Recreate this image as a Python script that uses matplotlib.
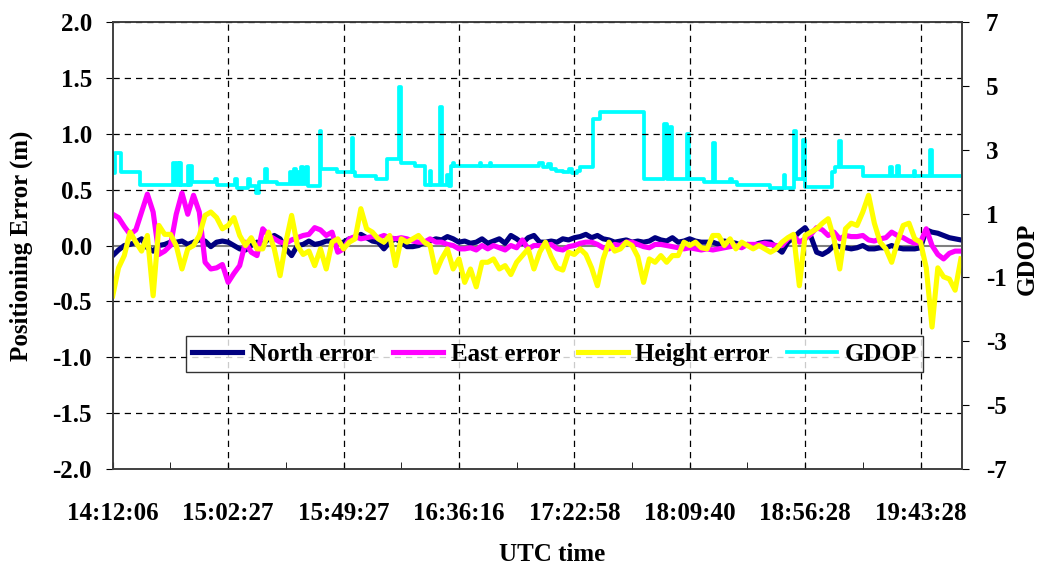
import numpy as np
import matplotlib
matplotlib.use("Agg")
import matplotlib.pyplot as plt
from matplotlib.ticker import MultipleLocator, FormatStrFormatter

plt.rcParams['font.family'] = ['Liberation Serif', 'DejaVu Serif']
plt.rcParams['font.weight'] = 'bold'
plt.rcParams['axes.unicode_minus'] = False

# epoch labels on the category axis (one label every 20 epochs)
time_labels = ['14:12:06', '15:02:27', '15:49:27', '16:36:16',
               '17:22:58', '18:09:40', '18:56:28', '19:43:28']

# positioning errors (m), one value per epoch
north_error = [
    -0.09, -0.04, 0.0, 0.01, 0.03, 0.06, -0.02, -0.05, 0.0, 0.01,
    0.03, 0.03, 0.04, 0.01, 0.03, 0.05, 0.04, -0.01, 0.03, 0.04,
    0.03, 0.0, -0.03, -0.04, 0.0, 0.03, 0.01, 0.06, 0.09, 0.06,
    -0.03, -0.09, 0.0, 0.01, 0.04, 0.01, 0.02, 0.04, 0.04, 0.02,
    0.03, 0.06, 0.07, 0.1, 0.07, 0.04, 0.03, -0.03, 0.03, 0.06,
    0.03, -0.01, -0.01, 0.0, 0.03, 0.04, 0.06, 0.05, 0.08, 0.06,
    0.03, 0.04, 0.02, 0.03, 0.06, 0.02, 0.04, 0.06, 0.02, 0.09,
    0.06, 0.02, 0.07, 0.09, 0.03, 0.03, 0.04, 0.03, 0.06, 0.05,
    0.07, 0.08, 0.1, 0.07, 0.09, 0.06, 0.05, 0.03, 0.04, 0.05,
    0.03, 0.04, 0.03, 0.04, 0.07, 0.05, 0.04, 0.07, 0.03, 0.04,
    0.06, 0.04, 0.03, 0.03, 0.03, 0.01, 0.04, 0.03, 0.02, 0.0,
    0.01, 0.0, 0.02, 0.03, 0.03, -0.02, -0.06, 0.03, 0.07, 0.12,
    0.16, 0.08, -0.06, -0.08, -0.05, 0.0, -0.01, -0.02, -0.03, -0.02,
    0.0, -0.03, -0.03, -0.02, -0.02, 0.0, -0.02, -0.03, -0.03, -0.03,
    -0.02, 0.14, 0.12, 0.11, 0.09, 0.07, 0.06, 0.05]

east_error = [
    0.28, 0.25, 0.17, 0.10, 0.14, 0.30, 0.46, 0.3, -0.08, -0.05,
    0.0, 0.28, 0.47, 0.28, 0.45, 0.3, -0.15, -0.21, -0.2, -0.17,
    -0.33, -0.25, -0.18, 0.03, -0.06, -0.09, 0.15, 0.09, 0.06, 0.03,
    0.02, 0.05, 0.07, 0.09, 0.1, 0.16, 0.14, 0.09, 0.12, -0.06,
    -0.03, 0.06, 0.08, 0.06, 0.07, 0.08, 0.07, 0.09, 0.07, 0.06,
    0.07, 0.06, 0.04, 0.03, 0.03, 0.06, 0.03, 0.03, 0.01, 0.0,
    -0.03, -0.03, -0.02, -0.04, 0.0, -0.03, 0.0, -0.02, -0.04, 0.0,
    -0.02, 0.05, -0.03, 0.0, 0.0, 0.0, 0.01, -0.03, -0.04, -0.01,
    0.0, 0.02, 0.03, 0.03, 0.01, -0.02, -0.03, 0.01, 0.0, 0.03,
    0.03, 0.01, -0.01, -0.02, 0.01, 0.01, 0.0, -0.01, -0.02, -0.03,
    -0.02, -0.03, -0.04, -0.03, -0.04, -0.03, -0.02, -0.01, 0.0, -0.02,
    0.01, 0.01, 0.01, 0.02, 0.01, 0.0, 0.0, 0.06, 0.09, 0.03,
    0.06, 0.1, 0.16, 0.14, 0.09, 0.12, 0.06, 0.09, 0.08, 0.08,
    0.09, 0.05, 0.04, 0.06, 0.07, 0.12, 0.09, 0.07, 0.04, 0.02,
    0.03, 0.15, 0.0, -0.08, -0.12, -0.07, -0.05, -0.05]

height_error = [
    -0.45, -0.2, -0.09, 0.12, 0.03, -0.05, 0.09, -0.45, 0.18, 0.1,
    0.1, 0.0, -0.21, -0.03, 0.0, 0.09, 0.27, 0.3, 0.25, 0.15,
    0.18, 0.25, 0.09, 0.0, 0.07, -0.03, -0.03, 0.12, -0.03, -0.27,
    0.03, 0.27, 0.0, -0.08, -0.05, -0.18, -0.03, -0.21, 0.03, 0.06,
    -0.03, 0.03, 0.06, 0.33, 0.15, 0.12, 0.06, 0.03, 0.09, -0.18,
    0.06, 0.03, 0.06, 0.09, 0.03, 0.0, -0.24, -0.12, -0.03, -0.21,
    -0.12, -0.33, -0.21, -0.37, -0.15, -0.15, -0.12, -0.21, -0.18, -0.26,
    -0.15, -0.09, -0.03, -0.21, -0.06, 0.03, -0.1, -0.2, -0.22, -0.06,
    -0.08, -0.03, -0.08, -0.2, -0.36, -0.12, 0.03, -0.05, -0.03, 0.03,
    0.0, -0.1, -0.33, -0.12, -0.15, -0.09, -0.15, -0.09, -0.09, 0.03,
    0.0, 0.03, -0.02, -0.03, 0.09, 0.09, 0.0, 0.06, -0.03, 0.03,
    0.0, -0.03, 0.0, -0.03, -0.06, -0.03, 0.03, 0.07, 0.1, -0.36,
    0.09, 0.12, 0.15, 0.2, 0.24, 0.06, -0.21, 0.15, 0.2, 0.18,
    0.3, 0.45, 0.2, 0.03, -0.03, -0.15, 0.03, 0.18, 0.2, 0.06,
    0.03, -0.2, -0.73, -0.2, -0.28, -0.3, -0.4, -0.12]

# GDOP changes: epoch at which a new value starts, and the value
gdop_epoch = [
    0.0, 0.35, 1.5, 4.7, 10.5, 10.8, 11.1, 11.4, 11.7, 11.9,
    13.1, 13.3, 13.6, 13.8, 17.7, 18.0, 21.2, 21.5, 23.5, 23.8,
    24.9, 25.3, 26.4, 26.7, 28.4, 30.7, 31.0, 31.4, 31.8, 32.1,
    32.4, 32.7, 33.0, 33.5, 33.9, 35.9, 36.1, 38.8, 41.5, 41.7,
    42.0, 45.7, 47.5, 49.6, 50.0, 52.4, 54.1, 55.0, 55.2, 56.7,
    57.0, 58.0, 58.2, 58.6, 59.0, 59.2, 63.6, 63.9, 65.4, 65.6,
    73.8, 74.6, 75.5, 76.0, 76.9, 78.1, 79.0, 79.6, 80.4, 81.0,
    83.2, 84.4, 92.0, 95.6, 96.0, 96.6, 97.0, 99.5, 99.8, 102.4,
    104.0, 104.3, 107.0, 107.3, 108.2, 114.0, 116.3, 116.6, 118.0, 118.4,
    119.7, 120.0, 124.6, 125.2, 125.9, 126.2, 130.1, 134.7, 135.0, 135.9,
    136.2, 138.8, 139.1, 141.7, 142.0, 147.2]
gdop_value = [
    2.26, 2.89, 2.31, 1.9, 2.58, 1.9, 2.58, 1.9, 2.58, 1.9,
    2.48, 1.9, 2.48, 2.0, 2.08, 1.9, 2.08, 1.79, 2.08, 1.85,
    1.64, 2.0, 2.39, 2.0, 1.92, 2.3, 1.92, 2.39, 1.92, 2.3,
    1.92, 2.45, 1.92, 2.45, 1.85, 3.59, 2.39, 2.31, 3.38, 2.31,
    2.18, 2.08, 2.71, 4.96, 2.58, 2.48, 1.9, 2.35, 1.9, 4.34,
    1.9, 2.2, 1.85, 2.48, 2.6, 2.48, 2.58, 2.48, 2.58, 2.48,
    2.58, 2.47, 2.55, 2.4, 2.35, 2.3, 2.4, 2.28, 2.35, 2.47,
    3.96, 4.17, 2.08, 3.8, 2.08, 3.72, 2.08, 3.5, 2.08, 2.0,
    3.2, 2.0, 2.08, 2.0, 1.9, 1.8, 2.2, 1.8, 3.6, 2.08,
    3.3, 1.82, 2.3, 2.47, 3.28, 2.47, 2.18, 2.45, 2.18, 2.5,
    2.18, 2.35, 2.18, 2.98, 2.18, 2.18]

epochs = np.arange(len(north_error))
fs = 18

fig, ax = plt.subplots(figsize=(10.44, 5.69), dpi=100)
fig.subplots_adjust(left=0.108, right=0.9215, top=0.961, bottom=0.176)
ax2 = ax.twinx()

# gridlines
for y in np.arange(-1.5, 2.01, 0.5):
    if abs(y) > 1e-9:
        ax.axhline(y, color='black', lw=0.9, ls=(0, (5, 4)), zorder=0)
for x in range(20, 147, 20):
    ax.axvline(x, color='black', lw=0.9, ls=(0, (5, 4)), zorder=0)
ax.axhline(0, color='#808080', lw=1.5, zorder=0)

l1, = ax.plot(epochs, north_error, color='#000080', lw=3.7, label='North error')
l2, = ax.plot(epochs, east_error, color='#FF00FF', lw=3.7, label='East error')
l3, = ax.plot(epochs, height_error, color='#FFFF00', lw=3.7, label='Height error')
l4, = ax2.step(gdop_epoch, gdop_value, where='post', color='#00FFFF', lw=2.7, label='GDOP')

ax.set_xlim(0, 147.2)
ax.set_ylim(-2, 2)
ax2.set_ylim(-7, 7)

ax.set_xticks(range(0, 147, 20))
ax.set_xticklabels(time_labels)
ax.xaxis.set_minor_locator(MultipleLocator(10))
ax.yaxis.set_major_locator(MultipleLocator(0.5))
ax.yaxis.set_major_formatter(FormatStrFormatter('%.1f'))
ax2.set_yticks(range(-7, 8, 2))

ax.tick_params(axis='x', which='both', direction='in', length=5, pad=24, labelsize=fs)
ax.tick_params(axis='y', direction='out', length=5, pad=10, labelsize=fs)
ax2.tick_params(axis='y', direction='out', length=5, pad=12, labelsize=fs)

for a in (ax, ax2):
    for s in a.spines.values():
        s.set_color('#404040')
        s.set_linewidth(1.2)

ax.set_xlabel('UTC time', fontsize=fs, fontweight='bold')
ax.xaxis.set_label_coords(0.517, -0.165)
ax.set_ylabel('Positioning Error (m)', fontsize=fs, fontweight='bold')
ax.yaxis.set_label_coords(-0.094, 0.5)
ax2.set_ylabel('GDOP', fontsize=fs, fontweight='bold', rotation=90)
ax2.yaxis.set_label_coords(1.063, 0.47)

leg = ax.legend(handles=[l1, l2, l3, l4], loc='center', bbox_to_anchor=(0.52, 0.257),
                ncol=4, frameon=True, fancybox=False, edgecolor='black',
                handlelength=2.0, handletextpad=0.3, columnspacing=0.7,
                borderpad=0.25, prop={'weight': 'bold', 'size': fs})
leg.get_frame().set_linewidth(1.0)
ax.set_zorder(ax2.get_zorder() + 1)
ax.patch.set_visible(False)

fig.savefig('out.png', dpi=100)
